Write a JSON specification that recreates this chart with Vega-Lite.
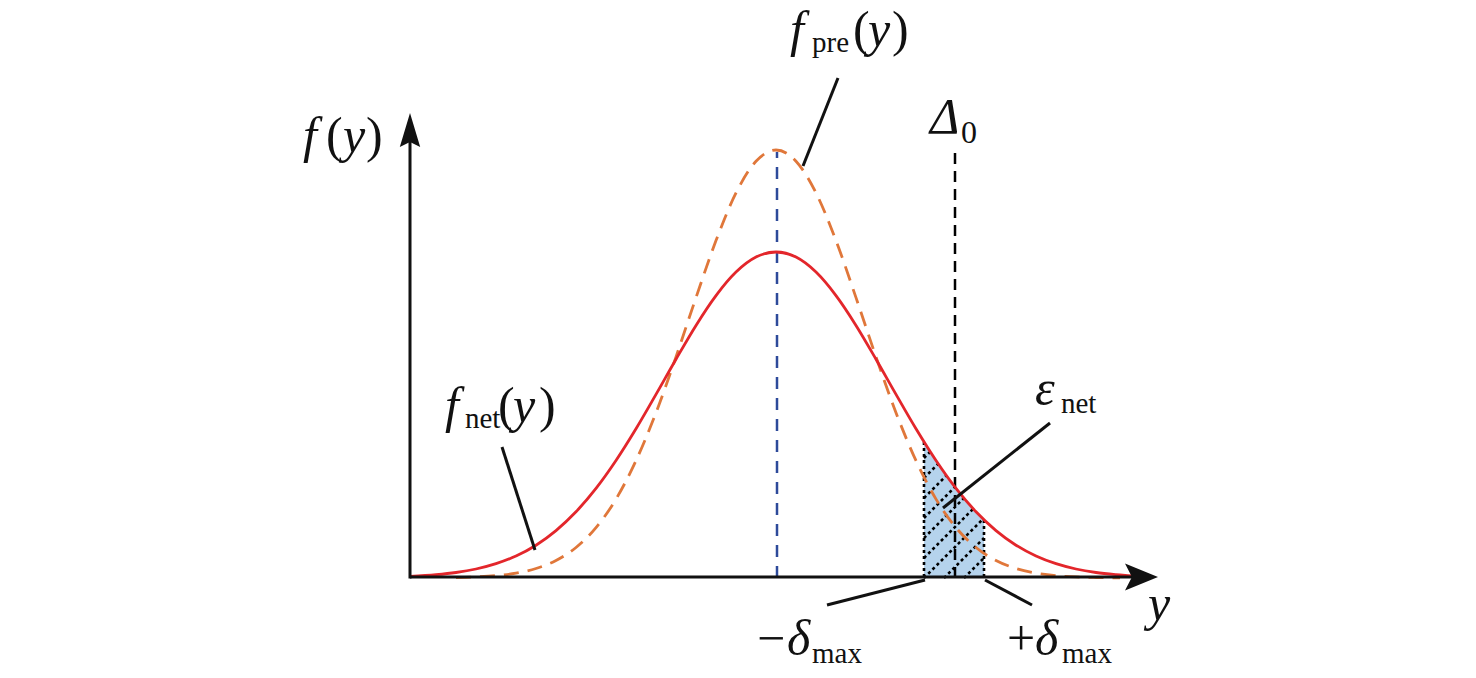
{
  "$schema": "https://vega.github.io/schema/vega-lite/v6.json",
  "width": 1476,
  "height": 678,
  "autosize": {"type": "fit", "contains": "padding"},
  "padding": 0,
  "background": "white",
  "config": {"view": {"stroke": null}},
  "datasets": {
    "red": [
      {"x": 410, "y": 576.4}, {"x": 436, "y": 574.7}, {"x": 456, "y": 572.5}, {"x": 476, "y": 569}, {"x": 496, "y": 563.7},
      {"x": 516, "y": 556}, {"x": 536, "y": 545.2}, {"x": 556, "y": 530.6}, {"x": 576, "y": 511.8}, {"x": 596, "y": 488.4},
      {"x": 616, "y": 460.5}, {"x": 636, "y": 428.8}, {"x": 656, "y": 394.4}, {"x": 676, "y": 359.2}, {"x": 696, "y": 325.4},
      {"x": 716, "y": 295.6}, {"x": 736, "y": 272.1}, {"x": 756, "y": 257.1}, {"x": 776, "y": 252}, {"x": 796, "y": 257.1},
      {"x": 816, "y": 272.1}, {"x": 836, "y": 295.6}, {"x": 856, "y": 325.4}, {"x": 876, "y": 359.2}, {"x": 896, "y": 394.4},
      {"x": 916, "y": 428.8}, {"x": 936, "y": 460.5}, {"x": 956, "y": 488.4}, {"x": 976, "y": 511.8}, {"x": 996, "y": 530.6},
      {"x": 1016, "y": 545.2}, {"x": 1036, "y": 556}, {"x": 1056, "y": 563.7}, {"x": 1076, "y": 569}, {"x": 1096, "y": 572.5},
      {"x": 1116, "y": 574.7}, {"x": 1138, "y": 576.4}
    ],
    "orange": [
      {"x": 456, "y": 577.5}, {"x": 476, "y": 576.9}, {"x": 496, "y": 575.6}, {"x": 516, "y": 573.1}, {"x": 536, "y": 568.5},
      {"x": 556, "y": 560.5}, {"x": 576, "y": 547.5}, {"x": 596, "y": 527.7}, {"x": 616, "y": 499.1}, {"x": 636, "y": 460.7},
      {"x": 656, "y": 412.7}, {"x": 676, "y": 356.9}, {"x": 696, "y": 297.6}, {"x": 716, "y": 240.6}, {"x": 736, "y": 192.9},
      {"x": 756, "y": 161.2}, {"x": 776, "y": 150}, {"x": 796, "y": 161.2}, {"x": 816, "y": 192.9}, {"x": 836, "y": 240.6},
      {"x": 856, "y": 297.6}, {"x": 876, "y": 356.9}, {"x": 896, "y": 412.7}, {"x": 916, "y": 460.7}, {"x": 936, "y": 499.1},
      {"x": 956, "y": 527.7}, {"x": 976, "y": 547.5}, {"x": 996, "y": 560.5}, {"x": 1016, "y": 568.5}, {"x": 1036, "y": 573.1},
      {"x": 1056, "y": 575.6}, {"x": 1076, "y": 576.9}, {"x": 1096, "y": 577.5}, {"x": 1120, "y": 577.8}
    ],
    "shade": [
      {"x": 924, "y": 442}, {"x": 932, "y": 454.4}, {"x": 940, "y": 466.4}, {"x": 948, "y": 477.8}, {"x": 955, "y": 487.1},
      {"x": 962, "y": 495.9}, {"x": 970, "y": 505.3}, {"x": 978, "y": 513.9}, {"x": 984, "y": 519.9}
    ],
    "hatch": [
      {"x": 924, "y": 578, "x2": 983, "y2": 519},
      {"x": 924, "y": 558, "x2": 973.2, "y2": 508.8},
      {"x": 924, "y": 538, "x2": 963.9, "y2": 498.1},
      {"x": 924, "y": 518, "x2": 955, "y2": 487},
      {"x": 924, "y": 498, "x2": 946.4, "y2": 475.6},
      {"x": 924, "y": 478, "x2": 938.2, "y2": 463.8},
      {"x": 924, "y": 458, "x2": 930.3, "y2": 451.7},
      {"x": 944, "y": 578, "x2": 984, "y2": 538},
      {"x": 964, "y": 578, "x2": 984, "y2": 558},
      {"x": 924, "y": 442, "x2": 924, "y2": 578},
      {"x": 984, "y": 520, "x2": 984, "y2": 578}
    ],
    "leaders": [
      {"x": 838, "y": 78, "x2": 803, "y2": 166},
      {"x": 502, "y": 447, "x2": 535, "y2": 550},
      {"x": 1050, "y": 423, "x2": 943, "y2": 508},
      {"x": 827, "y": 605, "x2": 925, "y2": 580},
      {"x": 985, "y": 580, "x2": 1032, "y2": 605}
    ],
    "axes": [
      {"x": 410, "y": 577, "x2": 1135, "y2": 577},
      {"x": 410, "y": 578.5, "x2": 410, "y2": 140}
    ],
    "blue": [{"x": 777, "y": 578, "x2": 777, "y2": 152}],
    "black0": [{"x": 955, "y": 578, "x2": 955, "y2": 148}],
    "arrowx": [{"x": 1141.5, "y": 577}],
    "arrowy": [{"x": 410, "y": 130}],
    "it": [
      {"x": 303, "y": 152, "t": "f"}, {"x": 343, "y": 152, "t": "y"},
      {"x": 790, "y": 46, "t": "f"}, {"x": 868, "y": 46, "t": "y"},
      {"x": 445, "y": 422, "t": "f"}, {"x": 513, "y": 422, "t": "y"},
      {"x": 930, "y": 133, "t": "Δ"}, {"x": 1035, "y": 405, "t": "ε"},
      {"x": 787, "y": 655, "t": "δ"}, {"x": 1035, "y": 655, "t": "δ"},
      {"x": 1148, "y": 620, "t": "y"}
    ],
    "up": [
      {"x": 326, "y": 152, "t": "("}, {"x": 366, "y": 152, "t": ")"},
      {"x": 853, "y": 46, "t": "("}, {"x": 892, "y": 46, "t": ")"},
      {"x": 498, "y": 422, "t": "("}, {"x": 539, "y": 422, "t": ")"},
      {"x": 757, "y": 655, "t": "−"}, {"x": 1007, "y": 655, "t": "+"}
    ],
    "sub": [
      {"x": 812, "y": 52, "t": "pre"}, {"x": 465, "y": 428, "t": "net"},
      {"x": 1061, "y": 413, "t": "net"}, {"x": 812, "y": 663, "t": "max"},
      {"x": 1062, "y": 663, "t": "max"}
    ],
    "sub0": [{"x": 961, "y": 143, "t": "0"}]
  },
  "encoding": {
    "x": {"field": "x", "type": "quantitative", "scale": {"domain": [0, 1476], "nice": false, "zero": false}, "axis": null},
    "y": {"field": "y", "type": "quantitative", "scale": {"domain": [0, 678], "nice": false, "zero": false, "reverse": true}, "axis": null}
  },
  "layer": [
    {
      "data": {"name": "shade"},
      "mark": {"type": "area", "color": "#b5d3ec", "interpolate": "monotone"},
      "encoding": {"y2": {"datum": 578}}
    },
    {
      "data": {"name": "hatch"},
      "mark": {"type": "rule", "color": "black", "strokeWidth": 2.6, "strokeDash": [3, 3]},
      "encoding": {"x2": {"field": "x2"}, "y2": {"field": "y2"}}
    },
    {
      "data": {"name": "blue"},
      "mark": {"type": "rule", "color": "#2d4a9a", "strokeWidth": 2.5, "strokeDash": [12, 9]},
      "encoding": {"x2": {"field": "x2"}, "y2": {"field": "y2"}}
    },
    {
      "data": {"name": "black0"},
      "mark": {"type": "rule", "color": "black", "strokeWidth": 2.5, "strokeDash": [11, 7]},
      "encoding": {"x2": {"field": "x2"}, "y2": {"field": "y2"}}
    },
    {
      "data": {"name": "orange"},
      "mark": {"type": "line", "color": "#e0773a", "strokeWidth": 2.8, "strokeDash": [15, 9], "interpolate": "monotone"},
      "encoding": {}
    },
    {
      "data": {"name": "red"},
      "mark": {"type": "line", "color": "#e3262b", "strokeWidth": 2.8, "interpolate": "monotone"},
      "encoding": {}
    },
    {
      "data": {"name": "axes"},
      "mark": {"type": "rule", "color": "#111111", "strokeWidth": 3},
      "encoding": {"x2": {"field": "x2"}, "y2": {"field": "y2"}}
    },
    {
      "data": {"name": "leaders"},
      "mark": {"type": "rule", "color": "#111111", "strokeWidth": 3},
      "encoding": {"x2": {"field": "x2"}, "y2": {"field": "y2"}}
    },
    {
      "data": {"name": "arrowx"},
      "mark": {"type": "point", "filled": true, "color": "#111111", "opacity": 1, "size": 1089, "shape": "M1,0L-1,-0.82L-0.58,0L-1,0.82Z", "strokeWidth": 0}
    },
    {
      "data": {"name": "arrowy"},
      "mark": {"type": "point", "filled": true, "color": "#111111", "opacity": 1, "size": 1156, "shape": "M0,-1L0.6,1L0,0.7L-0.6,1Z", "strokeWidth": 0}
    },
    {
      "data": {"name": "it"},
      "mark": {"type": "text", "font": "Liberation Serif", "fontStyle": "italic", "fontSize": 50, "align": "left", "baseline": "alphabetic", "color": "#111111"},
      "encoding": {"text": {"field": "t"}}
    },
    {
      "data": {"name": "up"},
      "mark": {"type": "text", "font": "Liberation Serif", "fontSize": 50, "align": "left", "baseline": "alphabetic", "color": "#111111"},
      "encoding": {"text": {"field": "t"}}
    },
    {
      "data": {"name": "sub"},
      "mark": {"type": "text", "font": "Liberation Serif", "fontSize": 29, "align": "left", "baseline": "alphabetic", "color": "#111111"},
      "encoding": {"text": {"field": "t"}}
    },
    {
      "data": {"name": "sub0"},
      "mark": {"type": "text", "font": "Liberation Serif", "fontSize": 32, "align": "left", "baseline": "alphabetic", "color": "#111111"},
      "encoding": {"text": {"field": "t"}}
    }
  ]
}
